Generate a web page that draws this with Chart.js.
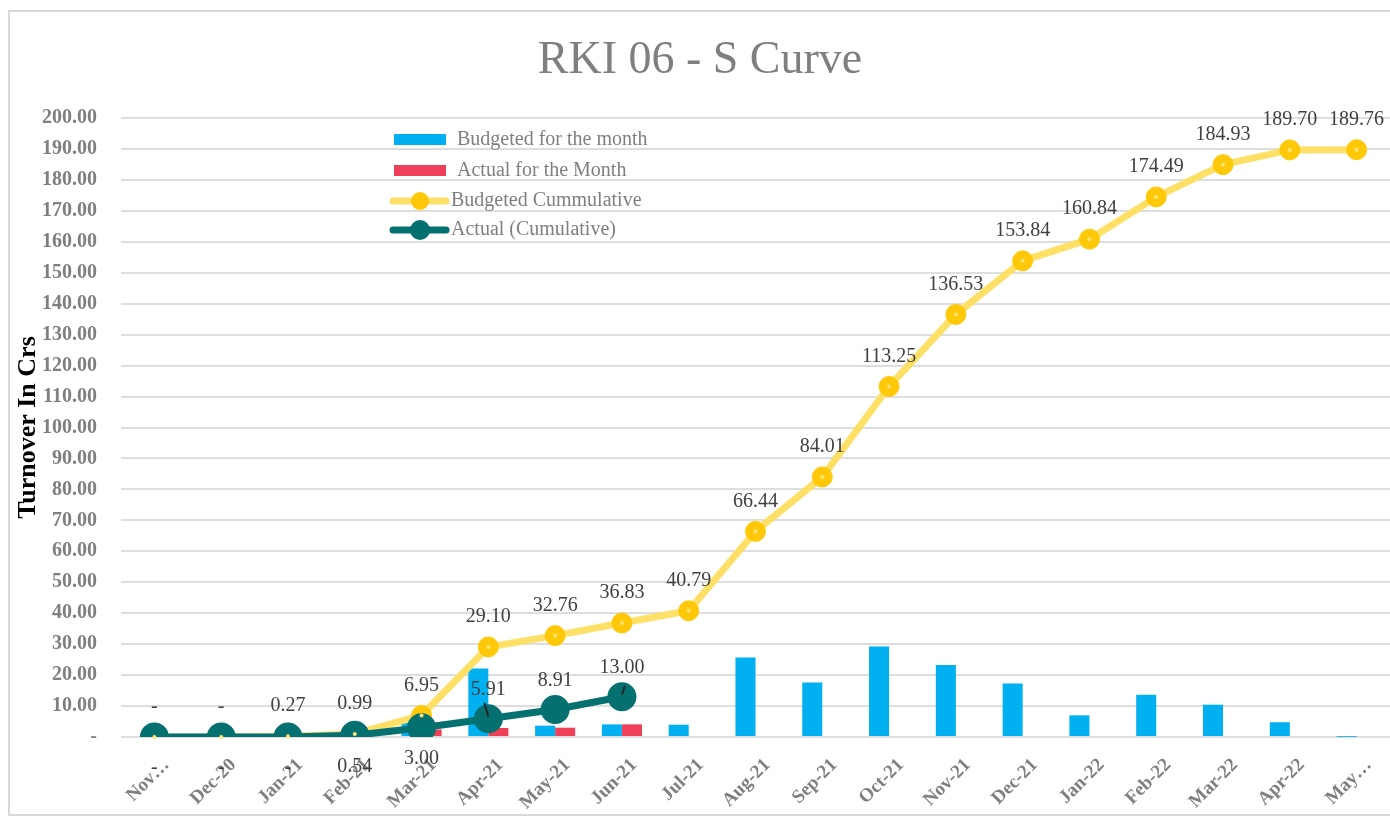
<!DOCTYPE html>
<html>
<head>
<meta charset="utf-8">
<title>RKI 06 - S Curve</title>
<script src="https://cdn.jsdelivr.net/npm/chart.js@4.4.1/dist/chart.umd.min.js"></script>
<style>
    html, body { margin: 0; padding: 0; background: #fff; }
    #wrap { width: 1390px; height: 821px; }
</style>
</head>
<body>
<div id="wrap"><canvas id="sCurveChart" width="1390" height="821"></canvas></div>
<script>
// datos
const meses = ['Nov…', 'Dec-20', 'Jan-21', 'Feb-21', 'Mar-21', 'Apr-21', 'May-21', 'Jun-21', 'Jul-21',
    'Aug-21', 'Sep-21', 'Oct-21', 'Nov-21', 'Dec-21', 'Jan-22', 'Feb-22', 'Mar-22', 'Apr-22', 'May…'];

const presupuestoMes = [0, 0, 0.27, 0.72, 5.96, 22.15, 3.66, 4.07, 3.96,
    25.65, 17.57, 29.24, 23.28, 17.31, 7.00, 13.65, 10.44, 4.77, 0.06];

const realMes = [0, 0, 0, 0.54, 2.46, 2.91, 3.00, 4.09];

const presupuestoAcum = [0, 0, 0.27, 0.99, 6.95, 29.10, 32.76, 36.83, 40.79,
    66.44, 84.01, 113.25, 136.53, 153.84, 160.84, 174.49, 184.93, 189.70, 189.76];

const realAcum = [0, 0, 0, 0.54, 3.00, 5.91, 8.91, 13.00];

const leyendas = ['Budgeted for the month', 'Actual for the Month', 'Budgeted Cummulative', 'Actual (Cumulative)'];

document.addEventListener('DOMContentLoaded', () => {
    const colores = {
        azul: '#00B0F0',
        rojo: '#EE4058',
        amarillo: '#FFE066',
        dorado: '#FFC90A',
        verde: '#04706F',
        gris: '#7f7f7f',
        texto: '#404040',
        rejilla: '#dedede'
    };
    const serif = '"Liberation Serif", "DejaVu Serif", serif';

    // etiquetas del acumulado real: debajo o encima del punto
    const posReal = ['below', 'below', 'below', 'below', 'below', 'above', 'above', 'above'];

    const fmt = v => v === 0 ? '-' : v.toFixed(2);

    // fondo, borde exterior y titulo
    const marco = {
        id: 'marco',
        beforeDraw(chart) {
            const ctx = chart.ctx;
            ctx.save();
            ctx.fillStyle = '#fff';
            ctx.fillRect(0, 0, chart.width, chart.height);
            ctx.strokeStyle = '#d9d9d9';
            ctx.lineWidth = 2;
            ctx.strokeRect(9, 11, chart.width, chart.height - 17);
            ctx.fillStyle = colores.gris;
            ctx.font = '46px ' + serif;
            ctx.textAlign = 'center';
            ctx.textBaseline = 'alphabetic';
            ctx.fillText('RKI 06 - S Curve', 700, 73);
            ctx.restore();
        }
    };

    // etiquetas de datos de las lineas
    const etiquetas = {
        id: 'etiquetas',
        afterDatasetsDraw(chart) {
            const ctx = chart.ctx;
            ctx.save();
            // punto central claro de los marcadores amarillos
            chart.getDatasetMeta(2).data.forEach(pt => {
                ctx.beginPath();
                ctx.fillStyle = '#FFE27A';
                ctx.arc(pt.x, pt.y, 2, 0, Math.PI * 2);
                ctx.fill();
            });
            ctx.font = '20px ' + serif;
            ctx.fillStyle = colores.texto;
            ctx.textAlign = 'center';
            ctx.textBaseline = 'middle';
            chart.getDatasetMeta(2).data.forEach((pt, i) => {
                ctx.fillText(fmt(presupuestoAcum[i]), pt.x, pt.y - 30);
            });
            chart.getDatasetMeta(3).data.forEach((pt, i) => {
                if (realAcum[i] == null) return;
                const abajo = posReal[i] === 'below';
                ctx.fillText(fmt(realAcum[i]), pt.x, pt.y + (abajo ? 31 : -29));
            });
            // lineas guia de Apr-21 y Jun-21
            const pa = chart.getDatasetMeta(3).data[5];
            const pj = chart.getDatasetMeta(3).data[7];
            ctx.strokeStyle = '#262626';
            ctx.lineWidth = 2;
            ctx.beginPath();
            ctx.moveTo(pa.x - 4, pa.y - 16);
            ctx.lineTo(pa.x, pa.y - 2);
            ctx.moveTo(pj.x, pj.y - 2);
            ctx.lineTo(pj.x + 3, pj.y - 11);
            ctx.stroke();
            ctx.restore();
        }
    };

    // leyenda dentro del area del grafico
    const leyenda = {
        id: 'leyenda',
        afterDraw(chart) {
            const ctx = chart.ctx;
            const filas = [140, 171, 201, 230];
            ctx.save();
            ctx.font = '20px ' + serif;
            ctx.textBaseline = 'middle';
            ctx.textAlign = 'left';
            // barras
            [colores.azul, colores.rojo].forEach((c, i) => {
                ctx.fillStyle = c;
                ctx.fillRect(394, filas[i] - 6, 52, 11);
                ctx.fillStyle = colores.gris;
                ctx.fillText(leyendas[i], 457, filas[i]);
            });
            // lineas
            [[colores.amarillo, colores.dorado, 9], [colores.verde, colores.verde, 10]].forEach((c, j) => {
                const y = filas[j + 2];
                ctx.strokeStyle = c[0];
                ctx.lineWidth = 7;
                ctx.lineCap = 'round';
                ctx.beginPath();
                ctx.moveTo(393, y);
                ctx.lineTo(446, y);
                ctx.stroke();
                ctx.fillStyle = c[1];
                ctx.beginPath();
                ctx.arc(420, y, c[2], 0, Math.PI * 2);
                ctx.fill();
                ctx.fillStyle = colores.gris;
                ctx.fillText(leyendas[j + 2], 451, y);
            });
            ctx.restore();
        }
    };

    new Chart(document.getElementById('sCurveChart').getContext('2d'), {
        type: 'bar',
        data: {
            labels: meses,
            datasets: [
                {
                    type: 'bar',
                    label: leyendas[0],
                    data: presupuestoMes,
                    backgroundColor: colores.azul,
                    categoryPercentage: 0.6,
                    barPercentage: 1.0,
                    order: 3
                },
                {
                    type: 'bar',
                    label: leyendas[1],
                    data: realMes,
                    backgroundColor: colores.rojo,
                    categoryPercentage: 0.6,
                    barPercentage: 1.0,
                    order: 4
                },
                {
                    type: 'line',
                    label: leyendas[2],
                    data: presupuestoAcum,
                    borderColor: colores.amarillo,
                    borderWidth: 7,
                    pointRadius: 10,
                    pointBackgroundColor: colores.dorado,
                    pointBorderColor: colores.dorado,
                    pointBorderWidth: 1,
                    tension: 0,
                    order: 2
                },
                {
                    type: 'line',
                    label: leyendas[3],
                    data: realAcum,
                    borderColor: colores.verde,
                    borderWidth: 7,
                    pointRadius: 11,
                    pointBackgroundColor: colores.verde,
                    pointBorderColor: colores.verde,
                    tension: 0,
                    order: 1
                }
            ]
        },
        options: {
            responsive: false,
            animation: false,
            devicePixelRatio: 1,
            layout: { autoPadding: false, padding: { top: 118, right: 0, bottom: 0, left: 0 } },
            scales: {
                x: {
                    grid: { display: false },
                    border: { display: false },
                    afterFit: s => { s.height = 84; s.paddingRight = 0; s.paddingLeft = 0; },
                    ticks: {
                        autoSkip: false,
                        maxRotation: 45,
                        minRotation: 45,
                        labelOffset: 12,
                        padding: 9,
                        color: colores.gris,
                        font: { family: serif, size: 19, weight: 'bold' }
                    }
                },
                y: {
                    min: 0,
                    max: 200,
                    afterFit: s => { s.width = 121; },
                    border: { display: false },
                    grid: { color: colores.rejilla, lineWidth: 2, drawTicks: false },
                    ticks: {
                        stepSize: 10,
                        padding: 24,
                        color: colores.gris,
                        font: { family: serif, size: 20, weight: 'bold' },
                        callback: v => fmt(v)
                    },
                    title: {
                        display: true,
                        text: 'Turnover In Crs',
                        color: '#000',
                        padding: { top: 13, bottom: 0 },
                        font: { family: serif, size: 26, weight: 'bold' }
                    }
                }
            },
            plugins: {
                legend: { display: false },
                tooltip: { enabled: false }
            }
        },
        plugins: [marco, etiquetas, leyenda]
    });
});
</script>
</body>
</html>
